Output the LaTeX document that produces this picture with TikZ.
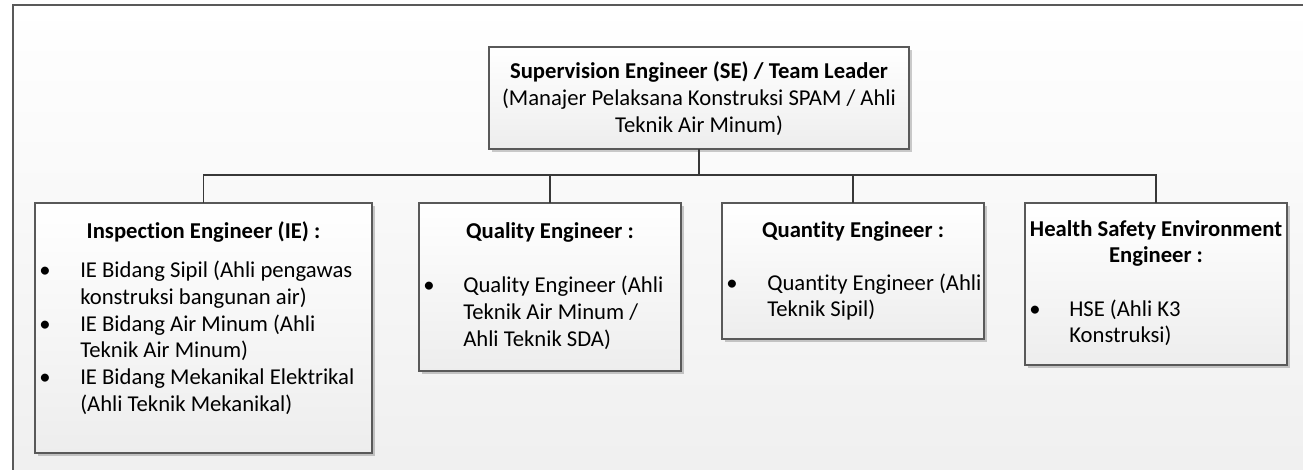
\documentclass[tikz,border=0pt]{standalone}
\usepackage{fontspec}
\setmainfont{Carlito}[Ligatures={NoCommon}]
\usetikzlibrary{shadows}
\begin{document}
\begin{tikzpicture}[x=0.75pt,y=-0.75pt,
  box/.style={draw=black!65, line width=0.8pt, top color=white, bottom color=black!7,
    drop shadow={shadow xshift=2pt,shadow yshift=-2pt,opacity=0.2,fill=black},
    anchor=north west, inner sep=0pt, outer sep=0pt},
  conn/.style={draw=black!78, line width=1.35pt},
  txt/.style={anchor=base west, inner sep=0pt, font=\fontsize{17}{20}\selectfont},
  ctr/.style={anchor=base, inner sep=0pt, font=\fontsize{17}{20}\selectfont},
  hd/.style={anchor=base, inner sep=0pt, font=\fontsize{17}{20}\selectfont\bfseries},
  bul/.style={anchor=base, inner sep=0pt, font=\fontsize{17}{20}\selectfont}]

\useasboundingbox (0,0) rectangle (1303,470);
\shade[top color=white, bottom color=black!6] (13,5) rectangle (1303,470);
\draw[black!65, line width=1.2pt] (13,470) -- (13,5) -- (1303,5);

% boxes
\node[box, minimum width=315pt, minimum height=76.5pt] (se) at (489,47) {};
\node[box, minimum width=252.75pt, minimum height=187.5pt] (ie) at (35,203) {};
\node[box, minimum width=196.5pt, minimum height=126pt] (qe) at (419,203) {};
\node[box, minimum width=196.5pt, minimum height=102pt] (qt) at (722,203) {};
\node[box, minimum width=196.5pt, minimum height=121.5pt] (hse) at (1025,203) {};

% connectors
\coordinate (bus) at (699,175);
\draw[conn] (se.south) -- (se.south |- bus);
\draw[conn] (ie.north) |- (hse.north |- bus) -- (hse.north);
\draw[conn] (qe.north) -- (qe.north |- bus);
\draw[conn] (qt.north) -- (qt.north |- bus);

% SE text
\node[hd] (se1) at (699,79) {Supervision Engineer (SE) / Team Leader};
\node[ctr] (se2) at (699,106) {(Manajer Pelaksana Konstruksi SPAM / Ahli};
\node[ctr] (se3) at (699,133) {Teknik Air Minum)};

% IE text
\node[hd] (ieh) at (203.5,239) {Inspection Engineer (IE) :};
\node[bul] (ieb1) at (45,278) {\textbullet};
\node[txt] (ie1) at (80,278) {IE Bidang Sipil (Ahli pengawas};
\node[txt] (ie2) at (80,304.6) {konstruksi bangunan air)};
\node[bul] (ieb2) at (45,331.2) {\textbullet};
\node[txt] (ie3) at (80,331.2) {IE Bidang Air Minum (Ahli};
\node[txt] (ie4) at (80,357.8) {Teknik Air Minum)};
\node[bul] (ieb3) at (45,384.4) {\textbullet};
\node[txt] (ie5) at (80,384.4) {IE Bidang Mekanikal Elektrikal};
\node[txt] (ie6) at (80,411) {(Ahli Teknik Mekanikal)};

% Quality text
\node[hd] (qeh) at (550,239) {Quality Engineer :};
\node[bul] (qeb1) at (429,293) {\textbullet};
\node[txt] (qe1) at (463,293) {Quality Engineer (Ahli};
\node[txt] (qe2) at (463,319.6) {Teknik Air Minum /};
\node[txt] (qe3) at (463,346.2) {Ahli Teknik SDA)};

% Quantity text
\node[hd] (qth) at (853,238) {Quantity Engineer :};
\node[bul] (qtb1) at (732,291) {\textbullet};
\node[txt] (qt1) at (767,291) {Quantity Engineer (Ahli};
\node[txt] (qt2) at (767,317) {Teknik Sipil)};

% HSE text
\node[hd] (hseh1) at (1156,237) {Health Safety Environment};
\node[hd] (hseh2) at (1156,263) {Engineer :};
\node[bul] (hseb1) at (1035,317) {\textbullet};
\node[txt] (hse1) at (1069,317) {HSE (Ahli K3};
\node[txt] (hse2) at (1069,343) {Konstruksi)};
\end{tikzpicture}
\end{document}
